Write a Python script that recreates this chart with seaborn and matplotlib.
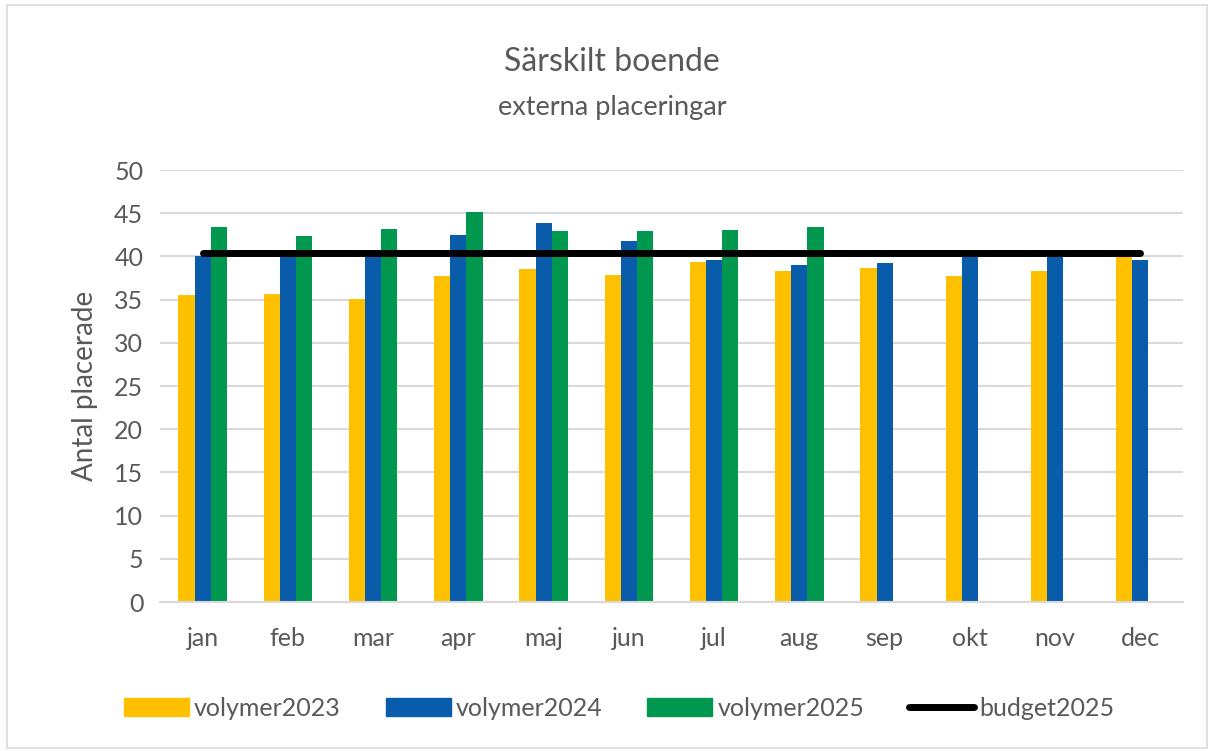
import matplotlib
matplotlib.use("Agg")
import matplotlib.pyplot as plt
import numpy as np
import pandas as pd
import seaborn as sns
from matplotlib.patches import Rectangle

months = ["jan", "feb", "mar", "apr", "maj", "jun", "jul", "aug", "sep", "okt", "nov", "dec"]
volymer2023 = [35.5, 35.7, 35.1, 37.7, 38.5, 37.9, 39.4, 38.3, 38.7, 37.7, 38.3, 40.0]
volymer2024 = [40.0, 40.3, 40.2, 42.5, 43.9, 41.8, 39.6, 39.0, 39.2, 40.3, 40.3, 39.6]
volymer2025 = [43.4, 42.4, 43.2, 45.1, 42.9, 42.9, 43.1, 43.4, np.nan, np.nan, np.nan, np.nan]
budget2025 = [40.4] * 12

colors = {"volymer2023": "#FFC000", "volymer2024": "#085CAA", "volymer2025": "#00984F"}

df = pd.DataFrame({"manad": months, "volymer2023": volymer2023,
                   "volymer2024": volymer2024, "volymer2025": volymer2025})
long_df = df.melt(id_vars="manad", var_name="serie", value_name="antal")

sns.set_style("white")
plt.rcParams["font.family"] = ["Lato", "DejaVu Sans"]
textgrey = "#595959"

fig = plt.figure(figsize=(12.14, 7.51), dpi=100)
ax = fig.add_axes([160 / 1214, 149 / 751, 1023 / 1214, 432 / 751])

sns.barplot(data=long_df, x="manad", y="antal", hue="serie", order=months,
            palette=colors, width=0.57, saturation=1, linewidth=0,
            ax=ax, legend=False)
ax.plot(range(len(months)), budget2025, color="black", lw=5,
        solid_capstyle="round", zorder=5)

ax.set_ylim(0, 50)
ax.set_xlim(-0.5, 11.5)
ax.set_yticks(range(0, 51, 5))
ax.grid(axis="y", color="#D9D9D9", lw=1.5)
ax.set_axisbelow(True)
for s in ["top", "right", "left"]:
    ax.spines[s].set_visible(False)
ax.spines["bottom"].set_color("#D9D9D9")
ax.spines["bottom"].set_linewidth(1.5)
ax.tick_params(axis="both", length=0, labelsize=18, colors=textgrey)
ax.tick_params(axis="x", pad=18)
ax.tick_params(axis="y", pad=12)
ax.set_xlabel("")
ax.set_ylabel("Antal placerade", fontsize=20, color=textgrey, labelpad=12)

fig.text(0.504, 0.917, "Särskilt boende", ha="center", va="center",
         fontsize=23, color=textgrey)
fig.text(0.504, 0.857, "externa placeringar", ha="center", va="center",
         fontsize=19.5, color=textgrey)

handles = [Rectangle((0, 0), 1, 1, color=colors[k]) for k in colors]
handles.append(plt.Line2D([0], [0], color="black", lw=5, solid_capstyle="round"))
labels = list(colors.keys()) + ["budget2025"]
fig.legend(handles, labels, loc="center", bbox_to_anchor=(0.51, 0.057), ncol=4,
           frameon=False, fontsize=18, labelcolor=textgrey, handlelength=2.6,
           handleheight=0.75, handletextpad=0.2, columnspacing=1.8)

fig.patches.append(Rectangle((0.006, 0.004), 0.988, 0.99, transform=fig.transFigure,
                             fill=False, edgecolor="#D9D9D9", lw=1.2))

fig.savefig("out.png", dpi=100)
